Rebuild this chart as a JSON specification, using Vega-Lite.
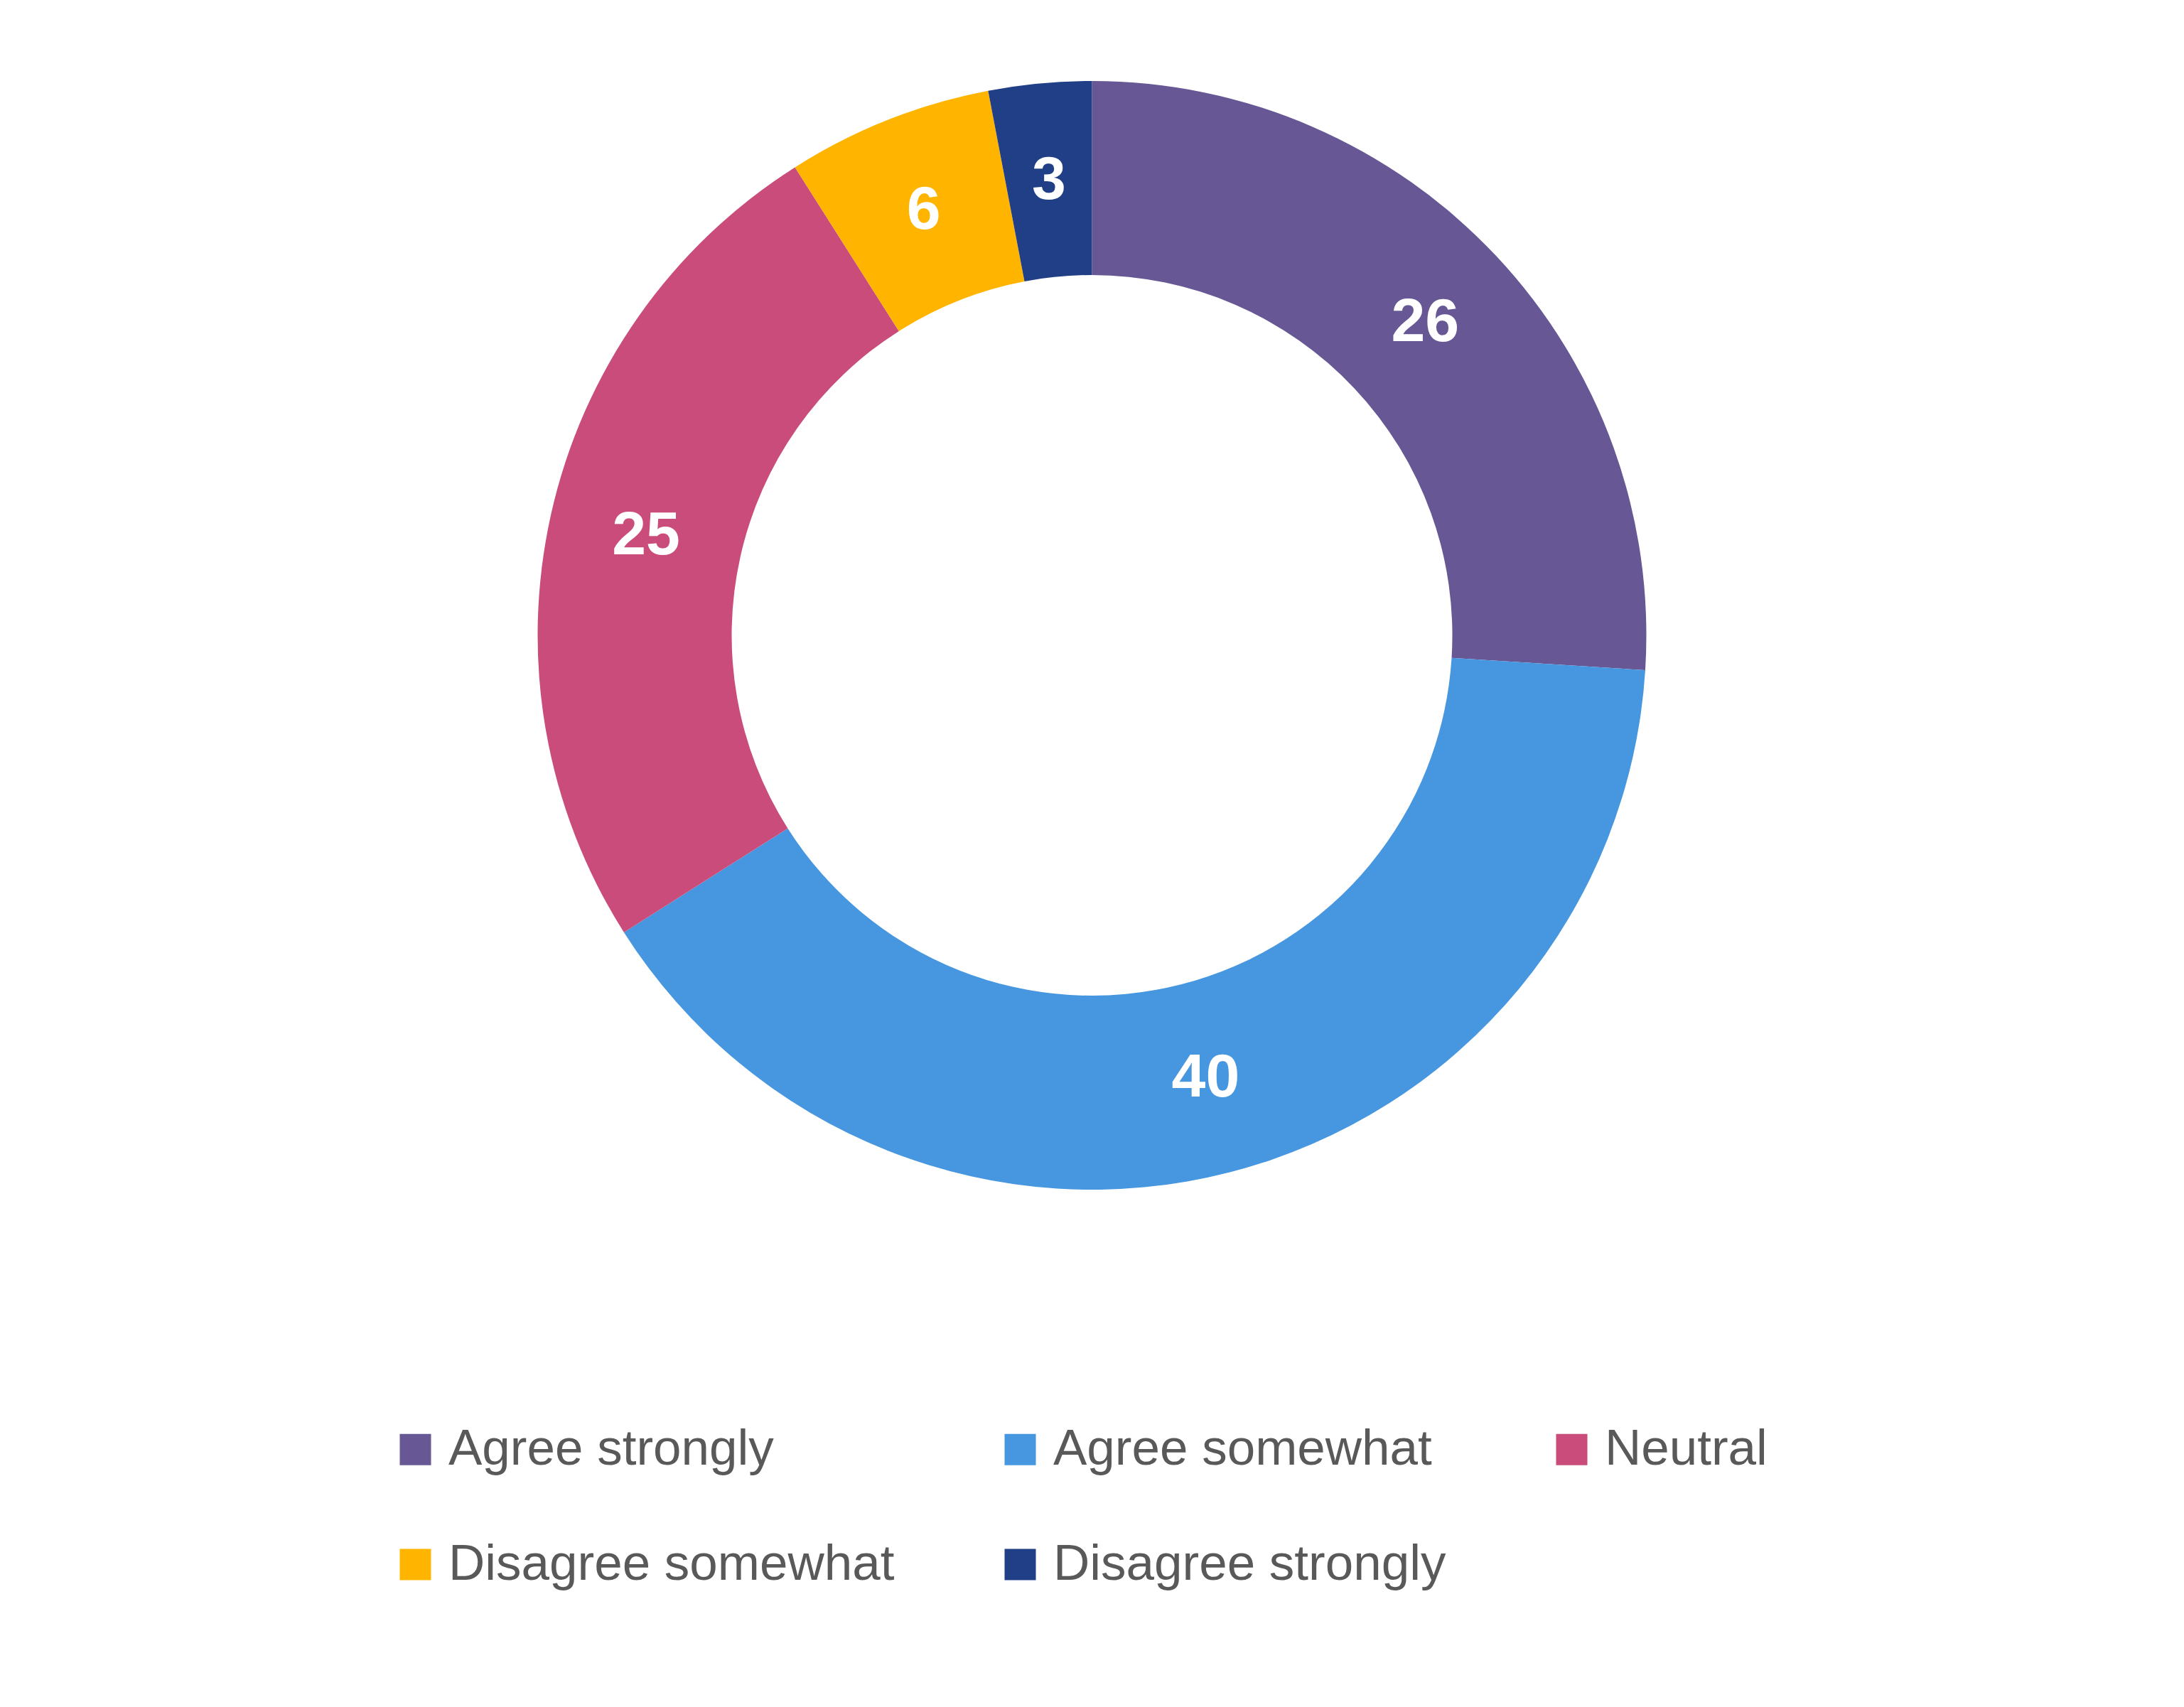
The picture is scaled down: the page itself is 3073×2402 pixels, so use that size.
{
  "$schema": "https://vega.github.io/schema/vega-lite/v6.json",
  "background": "white",
  "autosize": "none",
  "padding": {"top": 0, "left": 0, "right": 0, "bottom": 614},
  "width": 3073,
  "height": 1788,
  "data": {
    "values": [
      {"response": "Agree strongly", "share": 26, "rank": 1},
      {"response": "Agree somewhat", "share": 40, "rank": 2},
      {"response": "Neutral", "share": 25, "rank": 3},
      {"response": "Disagree somewhat", "share": 6, "rank": 4},
      {"response": "Disagree strongly", "share": 3, "rank": 5}
    ]
  },
  "encoding": {
    "theta": {"field": "share", "type": "quantitative", "stack": true},
    "order": {"field": "rank", "type": "quantitative"}
  },
  "layer": [
    {
      "mark": {"type": "arc", "outerRadius": 780, "innerRadius": 507, "strokeWidth": 0},
      "encoding": {
        "color": {
          "field": "response",
          "type": "nominal",
          "sort": ["Agree strongly", "Agree somewhat", "Neutral", "Disagree somewhat", "Disagree strongly"],
          "scale": {"range": ["#675794", "#4696e0", "#c94c7a", "#ffb500", "#213f87"]},
          "legend": {
            "title": null,
            "orient": "none",
            "legendX": 549,
            "legendY": 2004,
            "direction": "horizontal",
            "columns": 3,
            "columnPadding": 141,
            "rowPadding": 90,
            "symbolType": "square",
            "symbolSize": 1936,
            "symbolStrokeWidth": 0,
            "labelFont": "Liberation Sans",
            "labelFontSize": 71,
            "labelColor": "#595959",
            "labelOffset": 11,
            "labelLimit": 1000
          }
        }
      }
    },
    {
      "mark": {"type": "text", "radius": 643, "font": "Liberation Sans", "fontSize": 86, "fontWeight": "bold", "color": "white"},
      "encoding": {
        "text": {"field": "share", "type": "quantitative"}
      }
    }
  ]
}
